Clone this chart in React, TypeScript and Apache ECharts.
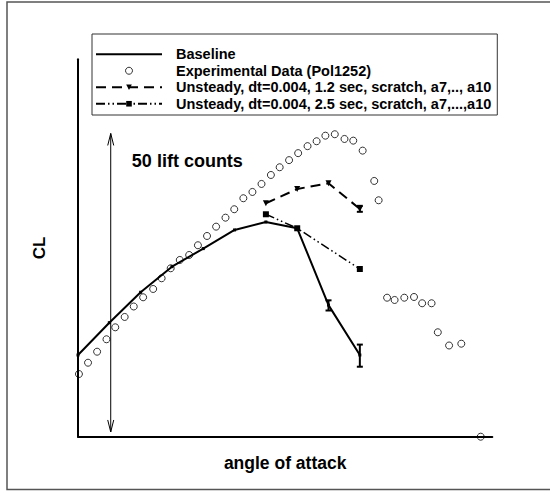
import React, { useEffect, useRef } from "react";
import * as echarts from "echarts";

// angle of attack (arbitrary units, one baseline step = 1) and CL (in lift counts above the axis origin)
const experimentalAlpha = [
  0.03, 0.32, 0.61, 0.91, 1.19, 1.49, 1.78, 2.08, 2.4, 2.67, 2.96, 3.25, 3.55, 3.83, 4.12, 4.41, 4.71, 4.99,
  5.28, 5.57, 5.86, 6.16, 6.44, 6.74, 7.03, 7.33, 7.62, 7.9, 8.2, 8.51, 8.79, 9.09, 9.46, 9.6, 9.87, 10.11,
  10.42, 10.73, 10.99, 11.29, 11.49, 11.85, 12.24, 12.86,
];
const experimentalCL = [
  10.48, 12.37, 14.21, 16.29, 18.29, 20.02, 21.77, 23.31, 24.7, 26.49, 28.16, 29.55, 30.38, 32.01, 33.56, 35.12,
  36.62, 38.03, 39.87, 40.92, 42.26, 43.76, 45.05, 46.24, 47.41, 48.58, 49.4, 50.33, 50.57, 49.78, 49.5, 47.83,
  42.76, 39.53, 23.24, 22.86, 23.24, 23.36, 22.31, 22.31, 17.46, 15.25, 15.55, 0,
];

const baselineAlpha = [0, 1, 2, 3, 4, 5, 6, 7, 8, 9];
const baselineCL = [13.66, 19.06, 24.15, 28.43, 31.45, 34.57, 35.9, 34.85, 22.0, 13.66];
const baselineErrAlpha = [8, 9];
const baselineErrLow = [21.1, 11.7];
const baselineErrHigh = [22.8, 15.4];

const unsteady12Alpha = [6, 7, 8, 9];
const unsteady12CL = [39.03, 41.42, 42.37, 38.08];
const unsteady12ErrAlpha = [9];
const unsteady12ErrLow = [37.6];
const unsteady12ErrHigh = [38.6];

const unsteady25Alpha = [6, 7, 9];
const unsteady25CL = [37.19, 34.85, 28.04];

const arrowAlpha = [1.045];
const arrowTop = [50.7];
const arrowBottom = [0.79];
const annotationAlpha = [1.72];
const annotationCL = [46.1];
const annotationText = ["50 lift counts"];

const seriesNames = [
  "Baseline",
  "Experimental Data (Pol1252)",
  "Unsteady, dt=0.004, 1.2 sec, scratch, a7,.., a10",
  "Unsteady, dt=0.004, 2.5 sec, scratch, a7,...,a10",
];

const xMax = 13.23;
const yMax = 63.1;
const FONT = '"Liberation Sans", Arial, Helvetica, sans-serif';

function zip(a: number[], b: number[]) {
  return a.map((v, i) => [v, b[i]]);
}

function errorBarSeries(alpha: number[], lo: number[], hi: number[], width: number) {
  return {
    type: "custom",
    coordinateSystem: "cartesian2d",
    silent: true,
    clip: false,
    z: 5,
    data: alpha.map((a, i) => [a, lo[i], hi[i]]),
    encode: { x: 0, y: [1, 2] },
    renderItem: (params: any, api: any) => {
      const x = api.value(0);
      const p1 = api.coord([x, api.value(1)]);
      const p2 = api.coord([x, api.value(2)]);
      const st = { stroke: "#000", lineWidth: 2 };
      return {
        type: "group",
        children: [
          { type: "line", shape: { x1: p1[0], y1: p1[1], x2: p2[0], y2: p2[1] }, style: st },
          { type: "line", shape: { x1: p1[0] - width, y1: p1[1], x2: p1[0] + width, y2: p1[1] }, style: st },
          { type: "line", shape: { x1: p2[0] - width, y1: p2[1], x2: p2[0] + width, y2: p2[1] }, style: st },
        ],
      };
    },
  };
}

export default function App() {
  const ref = useRef<HTMLDivElement>(null);
  useEffect(() => {
    if (!ref.current) return;
    const chart = echarts.init(ref.current, undefined, { renderer: "svg" });
    const option: any = {
      animation: false,
      backgroundColor: "#fff",
      graphic: [
        {
          type: "rect",
          z: -10,
          silent: true,
          shape: { x: 7, y: 2, width: 560, height: 487.5 },
          style: { fill: "none", stroke: "#555", lineWidth: 1.5 },
        },
      ],
      grid: { left: 78, right: 57.7, top: 59.3, bottom: 54.3 },
      xAxis: {
        type: "value",
        min: 0,
        max: xMax,
        name: "angle of attack",
        nameLocation: "middle",
        nameGap: 17,
        nameTextStyle: { fontFamily: FONT, fontWeight: "bold", fontSize: 17.5, color: "#000", verticalAlign: "top" },
        axisLine: { show: true, lineStyle: { color: "#000", width: 2 } },
        axisTick: { show: false },
        axisLabel: { show: false },
        splitLine: { show: false },
      },
      yAxis: {
        type: "value",
        min: 0,
        max: yMax,
        name: "CL",
        nameLocation: "middle",
        nameRotate: 90,
        nameGap: 30,
        nameTextStyle: { fontFamily: FONT, fontWeight: "bold", fontSize: 17, color: "#000" },
        axisLine: { show: true, lineStyle: { color: "#000", width: 2 } },
        axisTick: { show: false },
        axisLabel: { show: false },
        splitLine: { show: false },
      },
      legend: {
        orient: "vertical",
        left: 92,
        top: 34,
        padding: [12, 6, 3, 3],
        itemGap: 0,
        itemWidth: 66,
        itemHeight: 7,
        borderColor: "#333",
        borderWidth: 1,
        backgroundColor: "#fff",
        textStyle: {
          fontFamily: FONT,
          fontWeight: "bold",
          fontSize: 14.5,
          color: "#000",
          lineHeight: 16.5,
          padding: [0, 0, 0, 9],
        },
        data: [
          { name: seriesNames[0], itemStyle: { color: "rgba(0,0,0,0)", borderWidth: 0 } },
          { name: seriesNames[1], itemStyle: { borderWidth: 1, borderColor: "#000", color: "rgba(255,255,255,0)" } },
          { name: seriesNames[2] },
          { name: seriesNames[3] },
        ],
      },
      series: [
        {
          name: seriesNames[1],
          type: "scatter",
          clip: false,
          symbol: "circle",
          symbolSize: 7,
          itemStyle: { color: "rgba(255,255,255,0)", borderColor: "#000", borderWidth: 1 },
          data: zip(experimentalAlpha, experimentalCL),
          z: 2,
        },
        {
          name: seriesNames[0],
          type: "line",
          clip: false,
          symbol: "rect",
          symbolSize: 3,
          itemStyle: { color: "#000" },
          lineStyle: { color: "#000", width: 2 },
          data: zip(baselineAlpha, baselineCL),
          z: 3,
        },
        {
          name: seriesNames[2],
          type: "line",
          clip: false,
          symbol: "triangle",
          symbolRotate: 180,
          symbolSize: 6,
          itemStyle: { color: "#000" },
          lineStyle: { color: "#000", width: 2, type: [10, 6] },
          data: zip(unsteady12Alpha, unsteady12CL),
          z: 3,
        },
        {
          name: seriesNames[3],
          type: "line",
          clip: false,
          symbol: "rect",
          symbolSize: 6,
          itemStyle: { color: "#000" },
          lineStyle: { color: "#000", width: 1.5, type: [9, 3, 1.5, 3, 1.5, 3] },
          data: zip(unsteady25Alpha, unsteady25CL),
          z: 3,
        },
        errorBarSeries(baselineErrAlpha, baselineErrLow, baselineErrHigh, 3),
        errorBarSeries(unsteady12ErrAlpha, unsteady12ErrLow, unsteady12ErrHigh, 3),
        {
          type: "custom",
          coordinateSystem: "cartesian2d",
          silent: true,
          clip: false,
          z: 4,
          data: arrowAlpha.map((a, i) => [a, arrowTop[i], arrowBottom[i], annotationAlpha[i], annotationCL[i]]),
          encode: { x: 0, y: [1, 2] },
          renderItem: (params: any, api: any) => {
            const x = api.value(0);
            const top = api.coord([x, api.value(1)]);
            const bot = api.coord([x, api.value(2)]);
            const lab = api.coord([api.value(3), api.value(4)]);
            const st = { stroke: "#000", lineWidth: 1, fill: "none" };
            const hw = 3;
            const hl = 12;
            return {
              type: "group",
              children: [
                { type: "line", shape: { x1: top[0], y1: top[1], x2: bot[0], y2: bot[1] }, style: st },
                {
                  type: "polyline",
                  shape: { points: [[top[0] - hw, top[1] + hl], [top[0], top[1]], [top[0] + hw, top[1] + hl]] },
                  style: st,
                },
                {
                  type: "polyline",
                  shape: { points: [[bot[0] - hw, bot[1] - hl], [bot[0], bot[1]], [bot[0] + hw, bot[1] - hl]] },
                  style: st,
                },
                {
                  type: "text",
                  x: lab[0],
                  y: lab[1],
                  style: {
                    text: annotationText[params.dataIndex],
                    fill: "#000",
                    fontFamily: FONT,
                    fontWeight: "bold",
                    fontSize: 18,
                    align: "left",
                    verticalAlign: "middle",
                  },
                },
              ],
            };
          },
        },
      ],
    };
    chart.setOption(option);
    return () => chart.dispose();
  }, []);
  return (
    <div
      ref={ref}
      style={{ position: "absolute", left: 0, top: 0, width: 550, height: 491 }}
    />
  );
}
